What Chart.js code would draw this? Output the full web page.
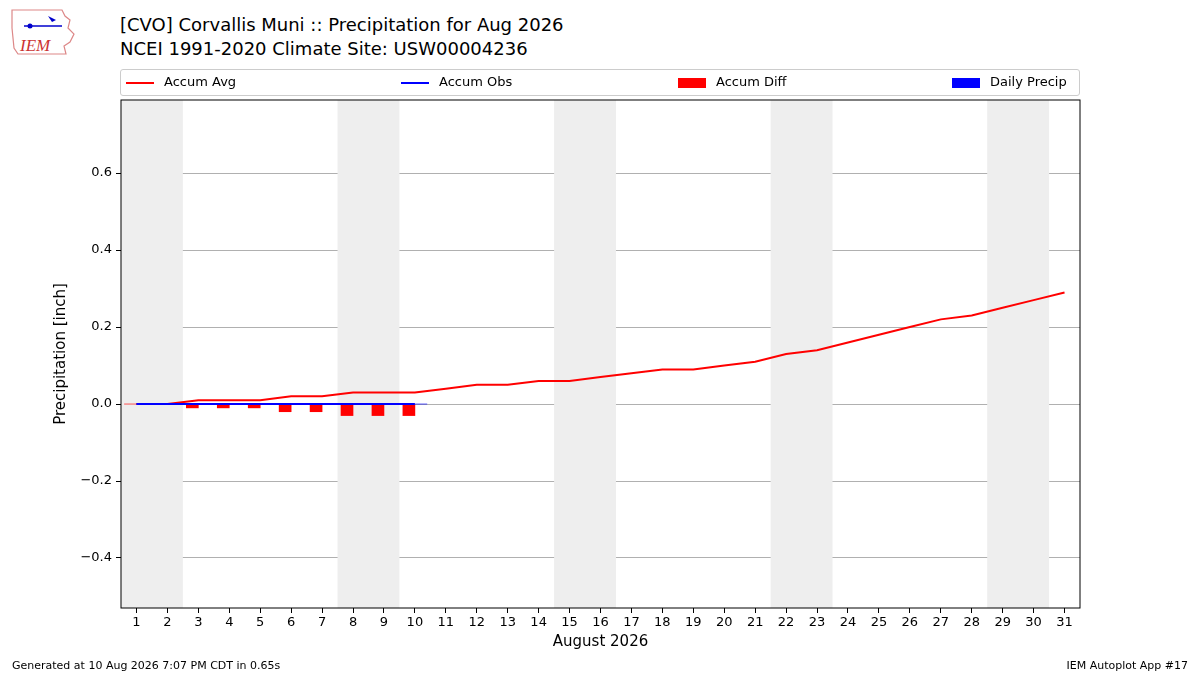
<!DOCTYPE html>
<html><head><meta charset="utf-8">
<script src="https://cdn.jsdelivr.net/npm/chart.js@4"></script>
<style>
body{margin:0;width:1200px;height:675px;background:#fff;font-family:"DejaVu Sans",sans-serif;position:relative;overflow:hidden}
#t{position:absolute;left:120px;top:13px;font-size:18px;line-height:24px;color:#000}
#c{position:absolute;left:0;top:0}
#lg{position:absolute;left:120px;top:69px;width:958px;height:25px;border:1px solid #ccc;border-radius:3px;font-size:13px}
.li{position:absolute;top:4px;white-space:nowrap}
.ln{display:inline-block;width:28px;height:2px;vertical-align:middle;margin-right:10px}
.bx{display:inline-block;width:28px;height:10px;vertical-align:middle;margin-right:10px}
.f{position:absolute;top:659px;font-size:11px}
#logo{position:absolute;left:10px;top:8px;width:68px;height:48px}
</style></head><body>
<svg id="logo" viewBox="0 0 68 48"><path d="M2 2 L52 2 L55 8 L60 12 L58 20 L64 26 L60 34 L54 38 L56 46 L8 46 L4 40 L2 20 Z" fill="none" stroke="#d88" stroke-width="1.2"/><line x1="14" y1="18" x2="52" y2="18" stroke="#00c" stroke-width="1.5"/><circle cx="20" cy="18" r="2.5" fill="#00c"/><path d="M38 8 L46 12 L42 14 Z" fill="#00c"/><text x="10" y="43" font-family="Liberation Serif" font-style="italic" font-size="17" fill="#c33">IEM</text></svg>
<div id="t">[CVO] Corvallis Muni :: Precipitation for Aug 2026<br>NCEI 1991-2020 Climate Site: USW00004236</div>
<canvas id="c" width="1200" height="675"></canvas>
<div id="lg">
<div class="li" style="left:5px"><span class="ln" style="background:red"></span>Accum Avg</div>
<div class="li" style="left:280px"><span class="ln" style="background:blue"></span>Accum Obs</div>
<div class="li" style="left:557px"><span class="bx" style="background:red"></span>Accum Diff</div>
<div class="li" style="left:831px"><span class="bx" style="background:blue"></span>Daily Precip</div>
</div>
<div class="f" style="left:12px">Generated at 10 Aug 2026 7:07 PM CDT in 0.65s</div>
<div class="f" style="right:12px">IEM Autoplot App #17</div>
<script>
const days=[1,2,3,4,5,6,7,8,9,10,11,12,13,14,15,16,17,18,19,20,21,22,23,24,25,26,27,28,29,30,31];
const accumAvg=[0,0,0.01,0.01,0.01,0.02,0.02,0.03,0.03,0.03,0.04,0.05,0.05,0.06,0.06,0.07,0.08,0.09,0.09,0.10,0.11,0.13,0.14,0.16,0.18,0.20,0.22,0.23,0.25,0.27,0.29];
const accumObs=[0,0,0,0,0,0,0,0,0,0];
const dailyPrecip=[0,0,0,0,0,0,0,0,0,0];
const accumDiff=[0,0,-0.01,-0.01,-0.01,-0.02,-0.02,-0.03,-0.03,-0.03];
const yTicks=[-0.4,-0.2,0,0.2,0.4,0.6];
const weekends=[[0.5,2.5],[7.5,9.5],[14.5,16.5],[21.5,23.5],[28.5,30.5]];
const xy=(v)=>v.map((y,i)=>({x:days[i],y}));
const shade={id:'shade',beforeDatasetsDraw(ch){const {ctx,chartArea:a,scales:{x}}=ch;ctx.save();ctx.fillStyle='#eeeeee';weekends.forEach(([s,e])=>{const l=x.getPixelForValue(s),r=x.getPixelForValue(e);ctx.fillRect(l,a.top,r-l,a.bottom-a.top);});ctx.restore();}};
const frame={id:'frame',afterDraw(ch){const {ctx,chartArea:a}=ch;ctx.save();ctx.strokeStyle='#000';ctx.lineWidth=1;ctx.strokeRect(a.left,a.top,a.right-a.left,a.bottom-a.top);ctx.restore();}};
new Chart(document.getElementById('c'),{
type:'bar',
data:{datasets:[
{type:'line',data:xy(accumAvg),borderColor:'red',borderWidth:2,pointRadius:0,order:1},
{type:'line',data:xy(accumObs),borderColor:'blue',borderWidth:2,pointRadius:0,order:0},
{type:'bar',data:xy(accumDiff),backgroundColor:'red',barThickness:12,order:2},
{type:'bar',data:xy(dailyPrecip),backgroundColor:'blue',barThickness:12,borderWidth:0,order:3}
]},
options:{responsive:false,animation:false,
layout:{padding:{left:48,right:120,top:100,bottom:20}},
plugins:{legend:{display:false},tooltip:{enabled:false}},
scales:{
x:{type:'linear',min:0.5,max:31.5,offset:false,grid:{offset:false,display:true,drawOnChartArea:false,drawTicks:true,tickLength:5,color:'#000'},border:{display:false},
afterBuildTicks(s){s.ticks=days.map(v=>({value:v}));},
afterFit(s){s.height=47;},
ticks:{color:'#000',font:{size:13,family:'DejaVu Sans'},autoSkip:false,maxRotation:0,padding:2,callback:v=>String(v)},
title:{display:true,text:'August 2026',color:'#000',font:{size:15,family:'DejaVu Sans'},padding:{top:2}}},
y:{min:-0.53,max:0.79,grid:{color:'#b0b0b0',tickLength:5,tickColor:'#000'},border:{display:false},
afterFit(s){s.width=73;},
ticks:{color:'#000',font:{size:13,family:'DejaVu Sans'},padding:4,callback:v=>{const r=Math.round(v*10)/10;return r===0?'0.0':(r<0?'\u2212'+Math.abs(r).toFixed(1):r.toFixed(1));}},
afterBuildTicks(s){s.ticks=yTicks.map(v=>({value:v}));},
title:{display:true,text:'Precipitation [inch]',color:'#000',font:{size:15,family:'DejaVu Sans'}}}
}},
plugins:[shade,frame]
});
</script>
</body></html>
